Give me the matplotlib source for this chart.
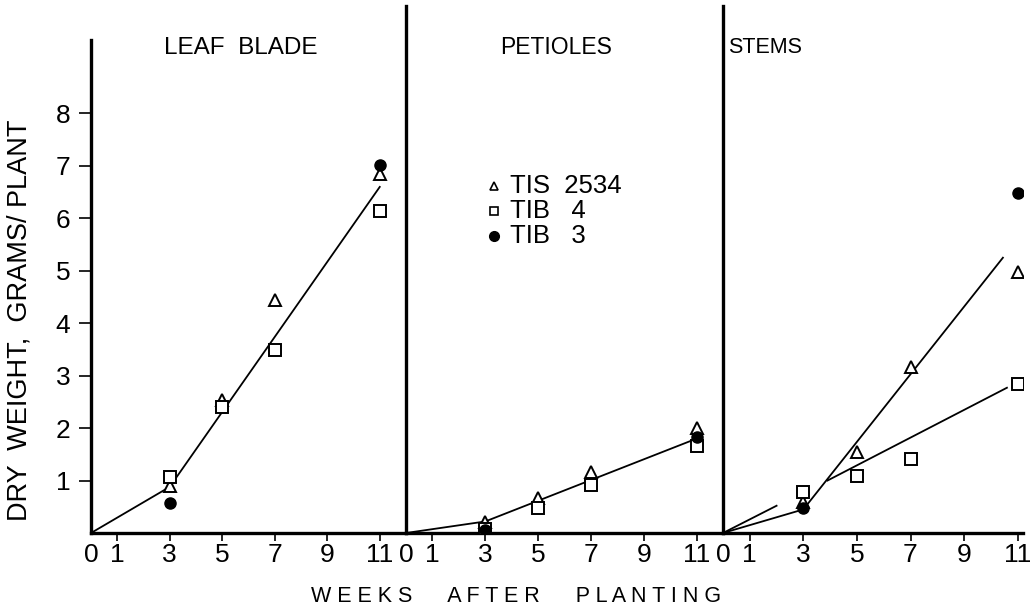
import numpy as np
import matplotlib
matplotlib.use("Agg")
import matplotlib.pyplot as plt

plt.rcParams["font.family"] = ["Liberation Sans", "DejaVu Sans"]

# weeks after planting where samples were taken
weeks = [3, 5, 7, 11]
weeks_tib3 = [3, 11]

# dry weight, grams/plant
leaf_tis = [0.90, 2.54, 4.45, 6.85]
leaf_tib4 = [1.07, 2.40, 3.49, 6.15]
leaf_tib3 = [0.57, 7.02]
pet_tis = [0.21, 0.67, 1.17, 2.00]
pet_tib4 = [0.08, 0.48, 0.92, 1.65]
pet_tib3 = [0.05, 1.83]
stem_tis = [0.60, 1.55, 3.17, 4.98]
stem_tib4 = [0.78, 1.09, 1.41, 2.84]
stem_tib3 = [0.48, 6.49]

# hand-drawn fit lines
leaf_fit_x = [0, 3, 11]
leaf_fit_y = [0, 0.88, 6.60]
pet_fit_x = [0, 3, 11]
pet_fit_y = [0, 0.22, 1.80]
stem_tis_fit_x = [0, 3, 10.45]
stem_tis_fit_y = [0, 0.45, 5.25]
stem_tib4_fit_x = [0, 2.0, np.nan, 3.9, 10.6]
stem_tib4_fit_y = [0, 0.52, np.nan, 1.00, 2.77]

titles = ["LEAF  BLADE", "PETIOLES", "STEMS"]
xticks = [0, 1, 3, 5, 7, 9, 11]
yticks = [1, 2, 3, 4, 5, 6, 7, 8]

W, H = 1032, 608
fig = plt.figure(figsize=(W / 100, H / 100), dpi=100)
bottom = (H - 533) / H
height = (533 - 6) / H
ymax = 10.05
boxes = [(91, 315, 12.0), (406, 317, 12.0), (723, 300, 11.2)]
axes = []
for left, width, xmax in boxes:
    ax = fig.add_axes([left / W, bottom, width / W, height])
    ax.set_xlim(0, xmax)
    ax.set_ylim(0, ymax)
    ax.patch.set_alpha(0)
    for s in ["top", "right"]:
        ax.spines[s].set_visible(False)
    for s in ["left", "bottom"]:
        ax.spines[s].set_linewidth(2.4)
    ax.set_xticks(xticks)
    ax.set_xticklabels([str(t) for t in xticks], fontsize=19)
    ax.tick_params(axis="x", direction="out", length=6, width=1.2, pad=1)
    ax.xaxis.get_major_ticks()[0].tick1line.set_visible(False)
    axes.append(ax)

ax1, ax2, ax3 = axes
ax1.spines["left"].set_bounds(0, 9.4)
ax1.set_yticks(yticks)
ax1.set_yticklabels([str(t) for t in yticks], fontsize=19)
ax1.tick_params(axis="y", direction="out", length=9, width=1.2, pad=6)
for ax in (ax2, ax3):
    ax.set_yticks([])

tri = dict(marker="^", ms=8, mfc="white", mec="black", mew=1.4, ls="none", zorder=4)
sq = dict(marker="s", ms=8, mfc="white", mec="black", mew=1.4, ls="none", zorder=4)
dot = dict(marker="o", ms=8, mfc="black", mec="black", ls="none", zorder=5)
line = dict(color="black", lw=1.3, zorder=2)

ax1.plot(leaf_fit_x, leaf_fit_y, **line)
ax1.plot(weeks, leaf_tis, **tri)
ax1.plot(weeks, leaf_tib4, **sq)
ax1.plot(weeks_tib3, leaf_tib3, **dot)

ax2.plot(pet_fit_x, pet_fit_y, **line)
ax2.plot(weeks, pet_tis, **tri)
ax2.plot(weeks, pet_tib4, **sq)
ax2.plot(weeks_tib3, pet_tib3, **dot)

ax3.plot(stem_tis_fit_x, stem_tis_fit_y, **line)
ax3.plot(stem_tib4_fit_x, stem_tib4_fit_y, **line)
ax3.plot(weeks, stem_tis, **tri)
ax3.plot(weeks, stem_tib4, **sq)
ax3.plot(weeks_tib3, stem_tib3, **dot)

# panel titles
ax1.text(2.8, 9.25, titles[0], fontsize=17.5, va="center", ha="left")
ax2.text(3.55, 9.25, titles[1], fontsize=16.5, va="center", ha="left")
ax3.text(0.2, 9.25, titles[2], fontsize=15.5, va="center", ha="left")

# legend drawn by hand inside the middle panel
labels = ["TIS  2534", "TIB   4", "TIB   3"]
styles = [dict(tri, ms=6, mew=1.2), dict(sq, ms=6, mew=1.2), dict(dot, ms=7)]
for k, (lab, st) in enumerate(zip(labels, styles)):
    yy = 6.62 - 0.48 * k
    ax2.plot([3.35], [yy], **st)
    ax2.text(3.95, yy, lab, fontsize=18.5, va="center", ha="left")

fig.text(20 / W, 1 - 320 / H, "DRY  WEIGHT,  GRAMS/ PLANT", rotation=90,
         fontsize=19.5, ha="center", va="center")
fig.text(516 / W, 1 - 597 / H, "W E E K S      A F T E R      P L A N T I N G",
         fontsize=15.5, ha="center", va="center")

fig.savefig("out.png", dpi=100)
